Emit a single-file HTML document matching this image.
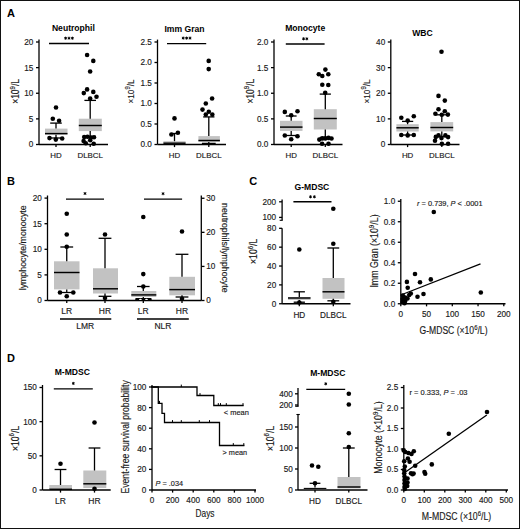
<!DOCTYPE html>
<html><head><meta charset="utf-8"><style>
html,body{margin:0;padding:0;background:#fff;}
svg{display:block;font-family:"Liberation Sans", sans-serif;}
text{stroke:#1a1a1a;stroke-width:0.15px;}
text[font-weight="bold"]{stroke:none;}
</style></head><body>
<svg width="520" height="529" viewBox="0 0 520 529">
<rect x="0.5" y="0.5" width="519" height="528" fill="#fff" stroke="#111" stroke-width="1"/>
<text x="11" y="17" font-size="11" text-anchor="middle" font-weight="bold" font-style="normal" fill="#000">A</text>
<text x="11" y="185" font-size="11" text-anchor="middle" font-weight="bold" font-style="normal" fill="#000">B</text>
<text x="253.3" y="184.6" font-size="11" text-anchor="middle" font-weight="bold" font-style="normal" fill="#000">C</text>
<text x="11" y="361.8" font-size="11" text-anchor="middle" font-weight="bold" font-style="normal" fill="#000">D</text>
<text x="73.4" y="30.6" font-size="8.6" text-anchor="middle" font-weight="bold" font-style="normal" fill="#000">Neutrophil</text>
<line x1="39" y1="39.6" x2="39" y2="144.5" stroke="#000" stroke-width="1.3"/>
<line x1="36" y1="144.5" x2="39" y2="144.5" stroke="#000" stroke-width="1.3"/>
<text x="33.4" y="147.45" font-size="8.2" text-anchor="end" font-weight="normal" font-style="normal" fill="#1a1a1a">0</text>
<line x1="36" y1="118.88" x2="39" y2="118.88" stroke="#000" stroke-width="1.3"/>
<text x="33.4" y="121.83" font-size="8.2" text-anchor="end" font-weight="normal" font-style="normal" fill="#1a1a1a">5</text>
<line x1="36" y1="93.25" x2="39" y2="93.25" stroke="#000" stroke-width="1.3"/>
<text x="33.4" y="96.2" font-size="8.2" text-anchor="end" font-weight="normal" font-style="normal" fill="#1a1a1a">10</text>
<line x1="36" y1="67.62" x2="39" y2="67.62" stroke="#000" stroke-width="1.3"/>
<text x="33.4" y="70.58" font-size="8.2" text-anchor="end" font-weight="normal" font-style="normal" fill="#1a1a1a">15</text>
<line x1="36" y1="42" x2="39" y2="42" stroke="#000" stroke-width="1.3"/>
<text x="33.4" y="44.95" font-size="8.2" text-anchor="end" font-weight="normal" font-style="normal" fill="#1a1a1a">20</text>
<line x1="39" y1="144.5" x2="108" y2="144.5" stroke="#000" stroke-width="1.3"/>
<line x1="56" y1="144.5" x2="56" y2="147.1" stroke="#000" stroke-width="1.3"/>
<text x="56" y="157.8" font-size="7.9" text-anchor="middle" font-weight="normal" font-style="normal" fill="#1a1a1a">HD</text>
<line x1="90.2" y1="144.5" x2="90.2" y2="147.1" stroke="#000" stroke-width="1.3"/>
<text x="90.2" y="157.8" font-size="7.9" text-anchor="middle" font-weight="normal" font-style="normal" fill="#1a1a1a">DLBCL</text>
<text x="15.4" y="95" font-size="10" text-anchor="middle" fill="#1a1a1a" transform="rotate(-90 15.4 91.4)" textLength="24.8" lengthAdjust="spacingAndGlyphs">×10<tspan dy="-4.5" font-size="7.2">9</tspan><tspan dy="4.5">/L</tspan></text>
<line x1="49" y1="43.5" x2="89" y2="43.5" stroke="#000" stroke-width="1.3"/>
<path d="M65.6 36.7L65.6 39.7M64.3 37.45L66.9 38.95M64.3 38.95L66.9 37.45" stroke="#000" stroke-width="1" fill="none"/>
<path d="M69 36.7L69 39.7M67.7 37.45L70.3 38.95M67.7 38.95L70.3 37.45" stroke="#000" stroke-width="1" fill="none"/>
<path d="M72.4 36.7L72.4 39.7M71.1 37.45L73.7 38.95M71.1 38.95L73.7 37.45" stroke="#000" stroke-width="1" fill="none"/>
<rect x="45" y="128.6" width="22.5" height="6.2" fill="#c2c2c2"/>
<line x1="56" y1="123.1" x2="56" y2="128.6" stroke="#000" stroke-width="1.3"/>
<line x1="50.2" y1="123.1" x2="61.8" y2="123.1" stroke="#000" stroke-width="1.3"/>
<line x1="56" y1="134.8" x2="56" y2="138" stroke="#000" stroke-width="1.3"/>
<line x1="50.2" y1="138" x2="61.8" y2="138" stroke="#000" stroke-width="1.3"/>
<line x1="45" y1="133.6" x2="67.5" y2="133.6" stroke="#000" stroke-width="1.45"/>
<circle cx="56" cy="107.5" r="2.3" fill="#000"/>
<circle cx="52.8" cy="118.8" r="2.3" fill="#000"/>
<circle cx="59.1" cy="120.8" r="2.3" fill="#000"/>
<circle cx="49.5" cy="138.1" r="2.3" fill="#000"/>
<circle cx="55.8" cy="139.6" r="2.3" fill="#000"/>
<circle cx="62.2" cy="138.5" r="2.3" fill="#000"/>
<rect x="78.8" y="118.7" width="23" height="12.4" fill="#c2c2c2"/>
<line x1="90.2" y1="100.4" x2="90.2" y2="118.7" stroke="#000" stroke-width="1.3"/>
<line x1="84.4" y1="100.4" x2="96" y2="100.4" stroke="#000" stroke-width="1.3"/>
<line x1="90.2" y1="131.1" x2="90.2" y2="136.5" stroke="#000" stroke-width="1.3"/>
<line x1="84.4" y1="136.5" x2="96" y2="136.5" stroke="#000" stroke-width="1.3"/>
<line x1="78.8" y1="125.5" x2="101.8" y2="125.5" stroke="#000" stroke-width="1.45"/>
<circle cx="87.1" cy="55" r="2.3" fill="#000"/>
<circle cx="93.3" cy="60.9" r="2.3" fill="#000"/>
<circle cx="90.15" cy="71.5" r="2.3" fill="#000"/>
<circle cx="87.1" cy="89.4" r="2.3" fill="#000"/>
<circle cx="83.8" cy="93.1" r="2.3" fill="#000"/>
<circle cx="93.3" cy="91.9" r="2.3" fill="#000"/>
<circle cx="96.5" cy="96.7" r="2.3" fill="#000"/>
<circle cx="90.15" cy="98.5" r="2.3" fill="#000"/>
<circle cx="84.2" cy="137" r="2.3" fill="#000"/>
<circle cx="87.5" cy="136.8" r="2.3" fill="#000"/>
<circle cx="91" cy="137.5" r="2.3" fill="#000"/>
<circle cx="94" cy="137.2" r="2.3" fill="#000"/>
<circle cx="90.2" cy="140.3" r="2.3" fill="#000"/>
<circle cx="83.6" cy="141" r="2.3" fill="#000"/>
<circle cx="85.8" cy="143.3" r="2.3" fill="#000"/>
<circle cx="93.7" cy="143.7" r="2.3" fill="#000"/>
<text x="184.5" y="31.8" font-size="8.6" text-anchor="middle" font-weight="bold" font-style="normal" fill="#000">Imm Gran</text>
<line x1="157.5" y1="39.6" x2="157.5" y2="144.5" stroke="#000" stroke-width="1.3"/>
<line x1="154.5" y1="144.5" x2="157.5" y2="144.5" stroke="#000" stroke-width="1.3"/>
<text x="151.9" y="147.45" font-size="8.2" text-anchor="end" font-weight="normal" font-style="normal" fill="#1a1a1a">0.0</text>
<line x1="154.5" y1="124" x2="157.5" y2="124" stroke="#000" stroke-width="1.3"/>
<text x="151.9" y="126.95" font-size="8.2" text-anchor="end" font-weight="normal" font-style="normal" fill="#1a1a1a">0.5</text>
<line x1="154.5" y1="103.5" x2="157.5" y2="103.5" stroke="#000" stroke-width="1.3"/>
<text x="151.9" y="106.45" font-size="8.2" text-anchor="end" font-weight="normal" font-style="normal" fill="#1a1a1a">1.0</text>
<line x1="154.5" y1="83" x2="157.5" y2="83" stroke="#000" stroke-width="1.3"/>
<text x="151.9" y="85.95" font-size="8.2" text-anchor="end" font-weight="normal" font-style="normal" fill="#1a1a1a">1.5</text>
<line x1="154.5" y1="62.5" x2="157.5" y2="62.5" stroke="#000" stroke-width="1.3"/>
<text x="151.9" y="65.45" font-size="8.2" text-anchor="end" font-weight="normal" font-style="normal" fill="#1a1a1a">2.0</text>
<line x1="154.5" y1="42" x2="157.5" y2="42" stroke="#000" stroke-width="1.3"/>
<text x="151.9" y="44.95" font-size="8.2" text-anchor="end" font-weight="normal" font-style="normal" fill="#1a1a1a">2.5</text>
<line x1="157.5" y1="144.5" x2="226" y2="144.5" stroke="#000" stroke-width="1.3"/>
<line x1="174.5" y1="144.5" x2="174.5" y2="147.1" stroke="#000" stroke-width="1.3"/>
<text x="174.5" y="157.8" font-size="7.9" text-anchor="middle" font-weight="normal" font-style="normal" fill="#1a1a1a">HD</text>
<line x1="208.8" y1="144.5" x2="208.8" y2="147.1" stroke="#000" stroke-width="1.3"/>
<text x="208.8" y="157.8" font-size="7.9" text-anchor="middle" font-weight="normal" font-style="normal" fill="#1a1a1a">DLBCL</text>
<text x="131.2" y="94.81" font-size="9.2" text-anchor="middle" fill="#1a1a1a" transform="rotate(-90 131.2 91.5)" textLength="24" lengthAdjust="spacingAndGlyphs">×10<tspan dy="-4.14" font-size="6.62">9</tspan><tspan dy="4.14">/L</tspan></text>
<line x1="167" y1="43.6" x2="206.2" y2="43.6" stroke="#000" stroke-width="1.3"/>
<path d="M183.2 36.6L183.2 39.6M181.9 37.35L184.5 38.85M181.9 38.85L184.5 37.35" stroke="#000" stroke-width="1" fill="none"/>
<path d="M186.6 36.6L186.6 39.6M185.3 37.35L187.9 38.85M185.3 38.85L187.9 37.35" stroke="#000" stroke-width="1" fill="none"/>
<path d="M190 36.6L190 39.6M188.7 37.35L191.3 38.85M188.7 38.85L191.3 37.35" stroke="#000" stroke-width="1" fill="none"/>
<rect x="163.4" y="141.2" width="22.2" height="2.8" fill="#c2c2c2"/>
<line x1="174.5" y1="133.5" x2="174.5" y2="141.2" stroke="#000" stroke-width="1.3"/>
<line x1="171" y1="133.5" x2="178" y2="133.5" stroke="#000" stroke-width="1.3"/>
<line x1="163.4" y1="143.2" x2="185.6" y2="143.2" stroke="#000" stroke-width="1.45"/>
<circle cx="174.5" cy="118.4" r="2.3" fill="#000"/>
<circle cx="171.4" cy="134.5" r="2.3" fill="#000"/>
<circle cx="177.9" cy="132.8" r="2.3" fill="#000"/>
<rect x="198.4" y="136.1" width="21.5" height="5.8" fill="#c2c2c2"/>
<line x1="208.8" y1="116.9" x2="208.8" y2="136.1" stroke="#000" stroke-width="1.3"/>
<line x1="203.15" y1="116.9" x2="214.45" y2="116.9" stroke="#000" stroke-width="1.3"/>
<line x1="208.8" y1="141.9" x2="208.8" y2="143.4" stroke="#000" stroke-width="1.3"/>
<line x1="201.9" y1="143.4" x2="215.7" y2="143.4" stroke="#000" stroke-width="1.3"/>
<line x1="198.4" y1="140.5" x2="219.9" y2="140.5" stroke="#000" stroke-width="1.45"/>
<circle cx="208.7" cy="60.9" r="2.3" fill="#000"/>
<circle cx="208.7" cy="69.1" r="2.3" fill="#000"/>
<circle cx="212.1" cy="98.5" r="2.3" fill="#000"/>
<circle cx="205.8" cy="103.5" r="2.3" fill="#000"/>
<circle cx="202.5" cy="109.6" r="2.3" fill="#000"/>
<circle cx="208.8" cy="111.8" r="2.3" fill="#000"/>
<circle cx="205.8" cy="114.6" r="2.3" fill="#000"/>
<circle cx="212.3" cy="114.6" r="2.3" fill="#000"/>
<text x="305.2" y="31" font-size="8.6" text-anchor="middle" font-weight="bold" font-style="normal" fill="#000">Monocyte</text>
<line x1="274" y1="39.6" x2="274" y2="144.5" stroke="#000" stroke-width="1.3"/>
<line x1="271" y1="144.5" x2="274" y2="144.5" stroke="#000" stroke-width="1.3"/>
<text x="268.4" y="147.45" font-size="8.2" text-anchor="end" font-weight="normal" font-style="normal" fill="#1a1a1a">0.0</text>
<line x1="271" y1="118.88" x2="274" y2="118.88" stroke="#000" stroke-width="1.3"/>
<text x="268.4" y="121.83" font-size="8.2" text-anchor="end" font-weight="normal" font-style="normal" fill="#1a1a1a">0.5</text>
<line x1="271" y1="93.25" x2="274" y2="93.25" stroke="#000" stroke-width="1.3"/>
<text x="268.4" y="96.2" font-size="8.2" text-anchor="end" font-weight="normal" font-style="normal" fill="#1a1a1a">1.0</text>
<line x1="271" y1="67.62" x2="274" y2="67.62" stroke="#000" stroke-width="1.3"/>
<text x="268.4" y="70.58" font-size="8.2" text-anchor="end" font-weight="normal" font-style="normal" fill="#1a1a1a">1.5</text>
<line x1="271" y1="42" x2="274" y2="42" stroke="#000" stroke-width="1.3"/>
<text x="268.4" y="44.95" font-size="8.2" text-anchor="end" font-weight="normal" font-style="normal" fill="#1a1a1a">2.0</text>
<line x1="274" y1="144.5" x2="342.5" y2="144.5" stroke="#000" stroke-width="1.3"/>
<line x1="291.2" y1="144.5" x2="291.2" y2="147.1" stroke="#000" stroke-width="1.3"/>
<text x="291.2" y="157.8" font-size="7.9" text-anchor="middle" font-weight="normal" font-style="normal" fill="#1a1a1a">HD</text>
<line x1="325.3" y1="144.5" x2="325.3" y2="147.1" stroke="#000" stroke-width="1.3"/>
<text x="325.3" y="157.8" font-size="7.9" text-anchor="middle" font-weight="normal" font-style="normal" fill="#1a1a1a">DLBCL</text>
<text x="250.4" y="94.8" font-size="10" text-anchor="middle" fill="#1a1a1a" transform="rotate(-90 250.4 91.2)" textLength="24.6" lengthAdjust="spacingAndGlyphs">×10<tspan dy="-4.5" font-size="7.2">9</tspan><tspan dy="4.5">/L</tspan></text>
<line x1="285.8" y1="44" x2="324.6" y2="44" stroke="#000" stroke-width="1.3"/>
<path d="M303.55 37.3L303.55 40.3M302.25 38.05L304.85 39.55M302.25 39.55L304.85 38.05" stroke="#000" stroke-width="1" fill="none"/>
<path d="M306.85 37.3L306.85 40.3M305.55 38.05L308.15 39.55M305.55 39.55L308.15 38.05" stroke="#000" stroke-width="1" fill="none"/>
<rect x="280" y="120.8" width="22.5" height="10.1" fill="#c2c2c2"/>
<line x1="291.2" y1="116" x2="291.2" y2="120.8" stroke="#000" stroke-width="1.3"/>
<line x1="285.8" y1="116" x2="296.6" y2="116" stroke="#000" stroke-width="1.3"/>
<line x1="291.2" y1="130.9" x2="291.2" y2="135.5" stroke="#000" stroke-width="1.3"/>
<line x1="285.8" y1="135.5" x2="296.6" y2="135.5" stroke="#000" stroke-width="1.3"/>
<line x1="280" y1="127.1" x2="302.5" y2="127.1" stroke="#000" stroke-width="1.45"/>
<circle cx="284.8" cy="111.9" r="2.3" fill="#000"/>
<circle cx="297.5" cy="111.2" r="2.3" fill="#000"/>
<circle cx="291.2" cy="115.2" r="2.3" fill="#000"/>
<circle cx="284.8" cy="135.5" r="2.3" fill="#000"/>
<circle cx="297.5" cy="136.2" r="2.3" fill="#000"/>
<circle cx="291.2" cy="139.2" r="2.3" fill="#000"/>
<rect x="313.8" y="109.2" width="23" height="20.3" fill="#c2c2c2"/>
<line x1="325.3" y1="94.1" x2="325.3" y2="109.2" stroke="#000" stroke-width="1.3"/>
<line x1="319.7" y1="94.1" x2="330.9" y2="94.1" stroke="#000" stroke-width="1.3"/>
<line x1="325.3" y1="129.5" x2="325.3" y2="137.5" stroke="#000" stroke-width="1.3"/>
<line x1="319.7" y1="137.5" x2="330.9" y2="137.5" stroke="#000" stroke-width="1.3"/>
<line x1="313.8" y1="118.5" x2="336.8" y2="118.5" stroke="#000" stroke-width="1.45"/>
<circle cx="325.4" cy="69.6" r="2.3" fill="#000"/>
<circle cx="318.8" cy="74.2" r="2.3" fill="#000"/>
<circle cx="322.3" cy="76" r="2.3" fill="#000"/>
<circle cx="328.3" cy="74.2" r="2.3" fill="#000"/>
<circle cx="322.3" cy="84.8" r="2.3" fill="#000"/>
<circle cx="328.3" cy="85" r="2.3" fill="#000"/>
<circle cx="325.2" cy="92.7" r="2.3" fill="#000"/>
<circle cx="319.3" cy="139.6" r="2.3" fill="#000"/>
<circle cx="322.3" cy="138.4" r="2.3" fill="#000"/>
<circle cx="325.3" cy="138.4" r="2.3" fill="#000"/>
<circle cx="328.5" cy="137.9" r="2.3" fill="#000"/>
<circle cx="331.5" cy="138.5" r="2.3" fill="#000"/>
<circle cx="322.1" cy="143.8" r="2.3" fill="#000"/>
<circle cx="328.5" cy="143.8" r="2.3" fill="#000"/>
<text x="422.5" y="36.2" font-size="8.6" text-anchor="middle" font-weight="bold" font-style="normal" fill="#000">WBC</text>
<line x1="390.8" y1="39.6" x2="390.8" y2="144.5" stroke="#000" stroke-width="1.3"/>
<line x1="387.8" y1="144.5" x2="390.8" y2="144.5" stroke="#000" stroke-width="1.3"/>
<text x="385.2" y="147.45" font-size="8.2" text-anchor="end" font-weight="normal" font-style="normal" fill="#1a1a1a">0</text>
<line x1="387.8" y1="118.88" x2="390.8" y2="118.88" stroke="#000" stroke-width="1.3"/>
<text x="385.2" y="121.83" font-size="8.2" text-anchor="end" font-weight="normal" font-style="normal" fill="#1a1a1a">10</text>
<line x1="387.8" y1="93.25" x2="390.8" y2="93.25" stroke="#000" stroke-width="1.3"/>
<text x="385.2" y="96.2" font-size="8.2" text-anchor="end" font-weight="normal" font-style="normal" fill="#1a1a1a">20</text>
<line x1="387.8" y1="67.62" x2="390.8" y2="67.62" stroke="#000" stroke-width="1.3"/>
<text x="385.2" y="70.58" font-size="8.2" text-anchor="end" font-weight="normal" font-style="normal" fill="#1a1a1a">30</text>
<line x1="387.8" y1="42" x2="390.8" y2="42" stroke="#000" stroke-width="1.3"/>
<text x="385.2" y="44.95" font-size="8.2" text-anchor="end" font-weight="normal" font-style="normal" fill="#1a1a1a">40</text>
<line x1="390.8" y1="144.5" x2="459.5" y2="144.5" stroke="#000" stroke-width="1.3"/>
<line x1="407.6" y1="144.5" x2="407.6" y2="147.1" stroke="#000" stroke-width="1.3"/>
<text x="407.6" y="157.8" font-size="7.9" text-anchor="middle" font-weight="normal" font-style="normal" fill="#1a1a1a">HD</text>
<line x1="441.8" y1="144.5" x2="441.8" y2="147.1" stroke="#000" stroke-width="1.3"/>
<text x="441.8" y="157.8" font-size="7.9" text-anchor="middle" font-weight="normal" font-style="normal" fill="#1a1a1a">DLBCL</text>
<text x="366.6" y="94.96" font-size="9.6" text-anchor="middle" fill="#1a1a1a" transform="rotate(-90 366.6 91.5)" textLength="24.2" lengthAdjust="spacingAndGlyphs">×10<tspan dy="-4.32" font-size="6.91">9</tspan><tspan dy="4.32">/L</tspan></text>
<rect x="396.4" y="124.2" width="22.3" height="7.3" fill="#c2c2c2"/>
<line x1="407.6" y1="121.4" x2="407.6" y2="124.2" stroke="#000" stroke-width="1.3"/>
<line x1="402" y1="121.4" x2="413.2" y2="121.4" stroke="#000" stroke-width="1.3"/>
<line x1="407.6" y1="131.5" x2="407.6" y2="135" stroke="#000" stroke-width="1.3"/>
<line x1="402" y1="135" x2="413.2" y2="135" stroke="#000" stroke-width="1.3"/>
<line x1="396.4" y1="127.8" x2="418.7" y2="127.8" stroke="#000" stroke-width="1.45"/>
<circle cx="401.3" cy="117.8" r="2.3" fill="#000"/>
<circle cx="413.8" cy="116.2" r="2.3" fill="#000"/>
<circle cx="407.7" cy="120.6" r="2.3" fill="#000"/>
<circle cx="401.3" cy="135" r="2.3" fill="#000"/>
<circle cx="407.7" cy="135.4" r="2.3" fill="#000"/>
<circle cx="413.8" cy="135" r="2.3" fill="#000"/>
<rect x="430.4" y="122.1" width="22.8" height="9.3" fill="#c2c2c2"/>
<line x1="441.8" y1="114.8" x2="441.8" y2="122.1" stroke="#000" stroke-width="1.3"/>
<line x1="436.2" y1="114.8" x2="447.4" y2="114.8" stroke="#000" stroke-width="1.3"/>
<line x1="441.8" y1="131.4" x2="441.8" y2="136.5" stroke="#000" stroke-width="1.3"/>
<line x1="436.2" y1="136.5" x2="447.4" y2="136.5" stroke="#000" stroke-width="1.3"/>
<line x1="430.4" y1="127.5" x2="453.2" y2="127.5" stroke="#000" stroke-width="1.45"/>
<circle cx="441.5" cy="51.8" r="2.3" fill="#000"/>
<circle cx="438.5" cy="95.9" r="2.3" fill="#000"/>
<circle cx="444.8" cy="100.6" r="2.3" fill="#000"/>
<circle cx="438.5" cy="109.2" r="2.3" fill="#000"/>
<circle cx="444.8" cy="111.2" r="2.3" fill="#000"/>
<circle cx="435.4" cy="113.8" r="2.3" fill="#000"/>
<circle cx="441.8" cy="114.8" r="2.3" fill="#000"/>
<circle cx="447.9" cy="114.6" r="2.3" fill="#000"/>
<circle cx="435.8" cy="136.9" r="2.3" fill="#000"/>
<circle cx="438.5" cy="135.4" r="2.3" fill="#000"/>
<circle cx="441.5" cy="138.1" r="2.3" fill="#000"/>
<circle cx="445.4" cy="135.4" r="2.3" fill="#000"/>
<circle cx="448.1" cy="137.1" r="2.3" fill="#000"/>
<circle cx="435" cy="140.8" r="2.3" fill="#000"/>
<circle cx="441.9" cy="143.7" r="2.3" fill="#000"/>
<circle cx="448.1" cy="143.8" r="2.3" fill="#000"/>
<line x1="47.5" y1="195.5" x2="47.5" y2="300.5" stroke="#000" stroke-width="1.3"/>
<line x1="44.5" y1="300.5" x2="47.5" y2="300.5" stroke="#000" stroke-width="1.3"/>
<text x="41.9" y="303.45" font-size="8.2" text-anchor="end" font-weight="normal" font-style="normal" fill="#1a1a1a">0</text>
<line x1="44.5" y1="274.9" x2="47.5" y2="274.9" stroke="#000" stroke-width="1.3"/>
<text x="41.9" y="277.85" font-size="8.2" text-anchor="end" font-weight="normal" font-style="normal" fill="#1a1a1a">5</text>
<line x1="44.5" y1="249.3" x2="47.5" y2="249.3" stroke="#000" stroke-width="1.3"/>
<text x="41.9" y="252.25" font-size="8.2" text-anchor="end" font-weight="normal" font-style="normal" fill="#1a1a1a">10</text>
<line x1="44.5" y1="223.7" x2="47.5" y2="223.7" stroke="#000" stroke-width="1.3"/>
<text x="41.9" y="226.65" font-size="8.2" text-anchor="end" font-weight="normal" font-style="normal" fill="#1a1a1a">15</text>
<line x1="44.5" y1="198.1" x2="47.5" y2="198.1" stroke="#000" stroke-width="1.3"/>
<text x="41.9" y="201.05" font-size="8.2" text-anchor="end" font-weight="normal" font-style="normal" fill="#1a1a1a">20</text>
<line x1="201.3" y1="195.5" x2="201.3" y2="300.5" stroke="#000" stroke-width="1.3"/>
<line x1="201.3" y1="300.5" x2="204.5" y2="300.5" stroke="#000" stroke-width="1.3"/>
<text x="206.2" y="303.45" font-size="8.2" text-anchor="start" font-weight="normal" font-style="normal" fill="#1a1a1a">0</text>
<line x1="201.3" y1="266.42" x2="204.5" y2="266.42" stroke="#000" stroke-width="1.3"/>
<text x="206.2" y="269.37" font-size="8.2" text-anchor="start" font-weight="normal" font-style="normal" fill="#1a1a1a">10</text>
<line x1="201.3" y1="232.34" x2="204.5" y2="232.34" stroke="#000" stroke-width="1.3"/>
<text x="206.2" y="235.29" font-size="8.2" text-anchor="start" font-weight="normal" font-style="normal" fill="#1a1a1a">20</text>
<line x1="201.3" y1="198.26" x2="204.5" y2="198.26" stroke="#000" stroke-width="1.3"/>
<text x="206.2" y="201.21" font-size="8.2" text-anchor="start" font-weight="normal" font-style="normal" fill="#1a1a1a">30</text>
<line x1="47.5" y1="300.5" x2="201.3" y2="300.5" stroke="#000" stroke-width="1.3"/>
<line x1="66.75" y1="300.5" x2="66.75" y2="303.1" stroke="#000" stroke-width="1.3"/>
<text x="66.75" y="314.3" font-size="8.5" text-anchor="middle" font-weight="normal" font-style="normal" fill="#1a1a1a">LR</text>
<line x1="105" y1="300.5" x2="105" y2="303.1" stroke="#000" stroke-width="1.3"/>
<text x="105" y="314.3" font-size="8.5" text-anchor="middle" font-weight="normal" font-style="normal" fill="#1a1a1a">HR</text>
<line x1="143.3" y1="300.5" x2="143.3" y2="303.1" stroke="#000" stroke-width="1.3"/>
<text x="143.3" y="314.3" font-size="8.5" text-anchor="middle" font-weight="normal" font-style="normal" fill="#1a1a1a">LR</text>
<line x1="182" y1="300.5" x2="182" y2="303.1" stroke="#000" stroke-width="1.3"/>
<text x="182" y="314.3" font-size="8.5" text-anchor="middle" font-weight="normal" font-style="normal" fill="#1a1a1a">HR</text>
<line x1="60" y1="319" x2="111.3" y2="319" stroke="#000" stroke-width="1.3"/>
<line x1="137" y1="319" x2="188.8" y2="319" stroke="#000" stroke-width="1.3"/>
<text x="85.3" y="329" font-size="8.5" text-anchor="middle" font-weight="normal" font-style="normal" fill="#1a1a1a">LMR</text>
<text x="163" y="329" font-size="8.5" text-anchor="middle" font-weight="normal" font-style="normal" fill="#1a1a1a">NLR</text>
<line x1="66" y1="199.1" x2="104" y2="199.1" stroke="#000" stroke-width="1.3"/>
<path d="M85 192L85 195M83.7 192.75L86.3 194.25M83.7 194.25L86.3 192.75" stroke="#000" stroke-width="1" fill="none"/>
<line x1="144" y1="199.1" x2="182.1" y2="199.1" stroke="#000" stroke-width="1.3"/>
<path d="M163.05 192.2L163.05 195.2M161.75 192.95L164.35 194.45M161.75 194.45L164.35 192.95" stroke="#000" stroke-width="1" fill="none"/>
<text x="26.5" y="247.8" font-size="9.2" text-anchor="middle" font-weight="normal" font-style="normal" fill="#1a1a1a" transform="rotate(-90 26.5 247.8)" textLength="85" lengthAdjust="spacingAndGlyphs">lymphocyte/monocyte</text>
<text x="221.5" y="247.8" font-size="9.6" text-anchor="middle" font-weight="normal" font-style="normal" fill="#1a1a1a" transform="rotate(90 221.5 247.8)" textLength="89.5" lengthAdjust="spacingAndGlyphs">neutrophils/lymphocyte</text>
<rect x="54" y="261.3" width="25.5" height="28.1" fill="#c2c2c2"/>
<line x1="66.75" y1="247" x2="66.75" y2="261.3" stroke="#000" stroke-width="1.3"/>
<line x1="60.35" y1="247" x2="73.15" y2="247" stroke="#000" stroke-width="1.3"/>
<line x1="66.75" y1="289.4" x2="66.75" y2="292.5" stroke="#000" stroke-width="1.3"/>
<line x1="60.35" y1="292.5" x2="73.15" y2="292.5" stroke="#000" stroke-width="1.3"/>
<line x1="54" y1="272.5" x2="79.5" y2="272.5" stroke="#000" stroke-width="1.45"/>
<circle cx="66.75" cy="213.8" r="2.3" fill="#000"/>
<circle cx="66.75" cy="234.5" r="2.3" fill="#000"/>
<circle cx="66.75" cy="246.8" r="2.3" fill="#000"/>
<circle cx="60" cy="292.5" r="2.3" fill="#000"/>
<circle cx="73.3" cy="292.5" r="2.3" fill="#000"/>
<circle cx="66.75" cy="296.3" r="2.3" fill="#000"/>
<rect x="93" y="268.3" width="25" height="25.2" fill="#c2c2c2"/>
<line x1="105" y1="238.3" x2="105" y2="268.3" stroke="#000" stroke-width="1.3"/>
<line x1="98.6" y1="238.3" x2="111.4" y2="238.3" stroke="#000" stroke-width="1.3"/>
<line x1="105" y1="293.5" x2="105" y2="296.3" stroke="#000" stroke-width="1.3"/>
<line x1="98.6" y1="296.3" x2="111.4" y2="296.3" stroke="#000" stroke-width="1.3"/>
<line x1="93" y1="288.8" x2="118" y2="288.8" stroke="#000" stroke-width="1.45"/>
<circle cx="105" cy="234.5" r="2.3" fill="#000"/>
<circle cx="105" cy="298" r="2.3" fill="#000"/>
<rect x="131.3" y="291" width="25" height="6" fill="#c2c2c2"/>
<line x1="143.3" y1="286.5" x2="143.3" y2="291" stroke="#000" stroke-width="1.3"/>
<line x1="137" y1="286.5" x2="149.6" y2="286.5" stroke="#000" stroke-width="1.3"/>
<line x1="131.3" y1="294.9" x2="156.3" y2="294.9" stroke="#000" stroke-width="1.45"/>
<circle cx="143.3" cy="217" r="2.3" fill="#000"/>
<circle cx="143.3" cy="274.1" r="2.3" fill="#000"/>
<circle cx="143.3" cy="286.5" r="2.3" fill="#000"/>
<line x1="143.3" y1="297" x2="143.3" y2="298.5" stroke="#000" stroke-width="1.3"/>
<rect x="135.2" y="298" width="16.5" height="2.6" rx="1" fill="#000"/>
<ellipse cx="140.4" cy="299.4" rx="1.4" ry="0.6" fill="#fff"/>
<ellipse cx="146.5" cy="299.4" rx="1.4" ry="0.6" fill="#fff"/>
<rect x="169.3" y="276.8" width="25.7" height="18.5" fill="#c2c2c2"/>
<line x1="182" y1="254.3" x2="182" y2="276.8" stroke="#000" stroke-width="1.3"/>
<line x1="175.6" y1="254.3" x2="188.4" y2="254.3" stroke="#000" stroke-width="1.3"/>
<line x1="182" y1="295.3" x2="182" y2="297" stroke="#000" stroke-width="1.3"/>
<line x1="175.6" y1="297" x2="188.4" y2="297" stroke="#000" stroke-width="1.3"/>
<line x1="169.3" y1="289.6" x2="195" y2="289.6" stroke="#000" stroke-width="1.45"/>
<circle cx="182" cy="231.5" r="2.3" fill="#000"/>
<circle cx="182" cy="298.8" r="2.3" fill="#000"/>
<text x="311.9" y="190.2" font-size="8.6" text-anchor="middle" font-weight="bold" font-style="normal" fill="#000">G-MDSC</text>
<line x1="282.1" y1="199.5" x2="282.1" y2="220.3" stroke="#000" stroke-width="1.3"/>
<line x1="279.1" y1="201.8" x2="282.1" y2="201.8" stroke="#000" stroke-width="1.3"/>
<text x="276.2" y="204.75" font-size="8.2" text-anchor="end" font-weight="normal" font-style="normal" fill="#1a1a1a">200</text>
<line x1="279.1" y1="217.4" x2="282.1" y2="217.4" stroke="#000" stroke-width="1.3"/>
<text x="276.2" y="220.35" font-size="8.2" text-anchor="end" font-weight="normal" font-style="normal" fill="#1a1a1a">100</text>
<line x1="279.7" y1="220.3" x2="282.7" y2="220.3" stroke="#000" stroke-width="1.1"/>
<line x1="282.1" y1="228.3" x2="282.1" y2="303.8" stroke="#000" stroke-width="1.3"/>
<line x1="279.1" y1="303.75" x2="282.1" y2="303.75" stroke="#000" stroke-width="1.3"/>
<text x="276.2" y="306.7" font-size="8.2" text-anchor="end" font-weight="normal" font-style="normal" fill="#1a1a1a">0</text>
<line x1="279.1" y1="284.89" x2="282.1" y2="284.89" stroke="#000" stroke-width="1.3"/>
<text x="276.2" y="287.84" font-size="8.2" text-anchor="end" font-weight="normal" font-style="normal" fill="#1a1a1a">20</text>
<line x1="279.1" y1="266.03" x2="282.1" y2="266.03" stroke="#000" stroke-width="1.3"/>
<text x="276.2" y="268.98" font-size="8.2" text-anchor="end" font-weight="normal" font-style="normal" fill="#1a1a1a">40</text>
<line x1="279.1" y1="247.17" x2="282.1" y2="247.17" stroke="#000" stroke-width="1.3"/>
<text x="276.2" y="250.12" font-size="8.2" text-anchor="end" font-weight="normal" font-style="normal" fill="#1a1a1a">60</text>
<line x1="279.1" y1="228.31" x2="282.1" y2="228.31" stroke="#000" stroke-width="1.3"/>
<text x="276.2" y="231.26" font-size="8.2" text-anchor="end" font-weight="normal" font-style="normal" fill="#1a1a1a">80</text>
<line x1="282.1" y1="303.75" x2="350.5" y2="303.75" stroke="#000" stroke-width="1.3"/>
<line x1="299.3" y1="303.75" x2="299.3" y2="306.35" stroke="#000" stroke-width="1.3"/>
<text x="299.3" y="318" font-size="8.2" text-anchor="middle" font-weight="normal" font-style="normal" fill="#1a1a1a">HD</text>
<line x1="333.3" y1="303.75" x2="333.3" y2="306.35" stroke="#000" stroke-width="1.3"/>
<text x="333.3" y="318" font-size="8.2" text-anchor="middle" font-weight="normal" font-style="normal" fill="#1a1a1a">DLBCL</text>
<line x1="293.4" y1="201.75" x2="331.5" y2="201.75" stroke="#000" stroke-width="1.3"/>
<path d="M310.5 195.3L310.5 198.3M309.2 196.05L311.8 197.55M309.2 197.55L311.8 196.05" stroke="#000" stroke-width="1" fill="none"/>
<path d="M314.4 195.3L314.4 198.3M313.1 196.05L315.7 197.55M313.1 197.55L315.7 196.05" stroke="#000" stroke-width="1" fill="none"/>
<text x="253.6" y="254.9" font-size="10" text-anchor="middle" fill="#1a1a1a" transform="rotate(-90 253.6 251.3)" textLength="25.2" lengthAdjust="spacingAndGlyphs">×10<tspan dy="-4.5" font-size="7.2">6</tspan><tspan dy="4.5">/L</tspan></text>
<rect x="288" y="297" width="22.5" height="3" fill="#c2c2c2"/>
<line x1="299.3" y1="291.8" x2="299.3" y2="297" stroke="#000" stroke-width="1.3"/>
<line x1="293.7" y1="291.8" x2="304.9" y2="291.8" stroke="#000" stroke-width="1.3"/>
<line x1="299.3" y1="300" x2="299.3" y2="302.2" stroke="#000" stroke-width="1.3"/>
<line x1="293.7" y1="302.2" x2="304.9" y2="302.2" stroke="#000" stroke-width="1.3"/>
<line x1="288" y1="298" x2="310.5" y2="298" stroke="#000" stroke-width="1.45"/>
<circle cx="299.3" cy="249.5" r="2.3" fill="#000"/>
<circle cx="299.3" cy="302.5" r="2.3" fill="#000"/>
<rect x="322.5" y="278" width="22" height="20.8" fill="#c2c2c2"/>
<line x1="333.3" y1="248" x2="333.3" y2="278" stroke="#000" stroke-width="1.3"/>
<line x1="327.4" y1="248" x2="339.2" y2="248" stroke="#000" stroke-width="1.3"/>
<line x1="333.3" y1="298.8" x2="333.3" y2="300.8" stroke="#000" stroke-width="1.3"/>
<line x1="327.4" y1="300.8" x2="339.2" y2="300.8" stroke="#000" stroke-width="1.3"/>
<line x1="322.5" y1="291.8" x2="344.5" y2="291.8" stroke="#000" stroke-width="1.45"/>
<circle cx="333.3" cy="208.8" r="2.3" fill="#000"/>
<circle cx="333.3" cy="243.8" r="2.3" fill="#000"/>
<circle cx="333.3" cy="301.8" r="2.3" fill="#000"/>
<line x1="400.8" y1="199" x2="400.8" y2="303.75" stroke="#000" stroke-width="1.3"/>
<line x1="397.8" y1="303.75" x2="400.8" y2="303.75" stroke="#000" stroke-width="1.3"/>
<text x="395.2" y="306.7" font-size="8.2" text-anchor="end" font-weight="normal" font-style="normal" fill="#1a1a1a">0.0</text>
<line x1="397.8" y1="283.25" x2="400.8" y2="283.25" stroke="#000" stroke-width="1.3"/>
<text x="395.2" y="286.2" font-size="8.2" text-anchor="end" font-weight="normal" font-style="normal" fill="#1a1a1a">0.2</text>
<line x1="397.8" y1="262.75" x2="400.8" y2="262.75" stroke="#000" stroke-width="1.3"/>
<text x="395.2" y="265.7" font-size="8.2" text-anchor="end" font-weight="normal" font-style="normal" fill="#1a1a1a">0.4</text>
<line x1="397.8" y1="242.25" x2="400.8" y2="242.25" stroke="#000" stroke-width="1.3"/>
<text x="395.2" y="245.2" font-size="8.2" text-anchor="end" font-weight="normal" font-style="normal" fill="#1a1a1a">0.6</text>
<line x1="397.8" y1="221.75" x2="400.8" y2="221.75" stroke="#000" stroke-width="1.3"/>
<text x="395.2" y="224.7" font-size="8.2" text-anchor="end" font-weight="normal" font-style="normal" fill="#1a1a1a">0.8</text>
<line x1="397.8" y1="201.25" x2="400.8" y2="201.25" stroke="#000" stroke-width="1.3"/>
<text x="395.2" y="204.2" font-size="8.2" text-anchor="end" font-weight="normal" font-style="normal" fill="#1a1a1a">1.0</text>
<line x1="400.8" y1="303.75" x2="505.5" y2="303.75" stroke="#000" stroke-width="1.3"/>
<line x1="400.8" y1="303.75" x2="400.8" y2="306.35" stroke="#000" stroke-width="1.3"/>
<text x="400.8" y="317" font-size="8.2" text-anchor="middle" font-weight="normal" font-style="normal" fill="#1a1a1a">0</text>
<line x1="426.55" y1="303.75" x2="426.55" y2="306.35" stroke="#000" stroke-width="1.3"/>
<text x="426.55" y="317" font-size="8.2" text-anchor="middle" font-weight="normal" font-style="normal" fill="#1a1a1a">50</text>
<line x1="452.3" y1="303.75" x2="452.3" y2="306.35" stroke="#000" stroke-width="1.3"/>
<text x="452.3" y="317" font-size="8.2" text-anchor="middle" font-weight="normal" font-style="normal" fill="#1a1a1a">100</text>
<line x1="478.05" y1="303.75" x2="478.05" y2="306.35" stroke="#000" stroke-width="1.3"/>
<text x="478.05" y="317" font-size="8.2" text-anchor="middle" font-weight="normal" font-style="normal" fill="#1a1a1a">150</text>
<line x1="503.8" y1="303.75" x2="503.8" y2="306.35" stroke="#000" stroke-width="1.3"/>
<text x="503.8" y="317" font-size="8.2" text-anchor="middle" font-weight="normal" font-style="normal" fill="#1a1a1a">200</text>
<text x="453.5" y="333.6" font-size="10" text-anchor="middle" font-weight="normal" font-style="normal" fill="#1a1a1a" textLength="68" lengthAdjust="spacingAndGlyphs">G-MDSC (×10<tspan dy="-4" font-size="7">6</tspan><tspan dy="4">/L)</tspan></text>
<text x="374.9" y="251" font-size="10" text-anchor="middle" font-weight="normal" font-style="normal" fill="#1a1a1a" transform="rotate(-90 374.9 251)" textLength="73.2" lengthAdjust="spacingAndGlyphs" dy="3.6">Imm Gran (×10<tspan dy="-4" font-size="7">9</tspan><tspan dy="4">/L)</tspan></text>
<text x="449.8" y="206" font-size="7.4" text-anchor="middle" font-weight="normal" font-style="normal" fill="#1a1a1a" textLength="65.5" lengthAdjust="spacingAndGlyphs"><tspan font-style="italic">r</tspan> = 0.739, <tspan font-style="italic">P</tspan> &lt; .0001</text>
<line x1="400.8" y1="295" x2="480.5" y2="263.8" stroke="#000" stroke-width="1.3"/>
<circle cx="433.8" cy="212" r="2.3" fill="#000"/>
<circle cx="480.8" cy="292.5" r="2.3" fill="#000"/>
<circle cx="415" cy="274" r="2.3" fill="#000"/>
<circle cx="430.8" cy="279.4" r="2.3" fill="#000"/>
<circle cx="420" cy="282.3" r="2.3" fill="#000"/>
<circle cx="406.9" cy="281.9" r="2.3" fill="#000"/>
<circle cx="407.7" cy="287.8" r="2.3" fill="#000"/>
<circle cx="423.5" cy="294" r="2.3" fill="#000"/>
<circle cx="417.5" cy="296.8" r="2.3" fill="#000"/>
<circle cx="410.8" cy="293.5" r="2.3" fill="#000"/>
<circle cx="409.2" cy="295" r="2.3" fill="#000"/>
<circle cx="402.8" cy="295.5" r="2.3" fill="#000"/>
<circle cx="402.6" cy="299" r="2.3" fill="#000"/>
<circle cx="402.6" cy="302" r="2.3" fill="#000"/>
<circle cx="405.2" cy="297.5" r="2.3" fill="#000"/>
<circle cx="405.2" cy="301" r="2.3" fill="#000"/>
<circle cx="407.5" cy="298.5" r="2.3" fill="#000"/>
<circle cx="404.5" cy="303.2" r="2.3" fill="#000"/>
<text x="72.3" y="375.2" font-size="8.6" text-anchor="middle" font-weight="bold" font-style="normal" fill="#000">M-MDSC</text>
<line x1="42.5" y1="385" x2="42.5" y2="490" stroke="#000" stroke-width="1.3"/>
<line x1="39.5" y1="490" x2="42.5" y2="490" stroke="#000" stroke-width="1.3"/>
<text x="36.9" y="492.95" font-size="8.2" text-anchor="end" font-weight="normal" font-style="normal" fill="#1a1a1a">0</text>
<line x1="39.5" y1="455.83" x2="42.5" y2="455.83" stroke="#000" stroke-width="1.3"/>
<text x="36.9" y="458.78" font-size="8.2" text-anchor="end" font-weight="normal" font-style="normal" fill="#1a1a1a">50</text>
<line x1="39.5" y1="421.66" x2="42.5" y2="421.66" stroke="#000" stroke-width="1.3"/>
<text x="36.9" y="424.61" font-size="8.2" text-anchor="end" font-weight="normal" font-style="normal" fill="#1a1a1a">100</text>
<line x1="39.5" y1="387.49" x2="42.5" y2="387.49" stroke="#000" stroke-width="1.3"/>
<text x="36.9" y="390.44" font-size="8.2" text-anchor="end" font-weight="normal" font-style="normal" fill="#1a1a1a">150</text>
<line x1="42.5" y1="490" x2="110.7" y2="490" stroke="#000" stroke-width="1.3"/>
<line x1="60.5" y1="490" x2="60.5" y2="492.6" stroke="#000" stroke-width="1.3"/>
<text x="60.5" y="503.5" font-size="8.5" text-anchor="middle" font-weight="normal" font-style="normal" fill="#1a1a1a">LR</text>
<line x1="94.5" y1="490" x2="94.5" y2="492.6" stroke="#000" stroke-width="1.3"/>
<text x="94.5" y="503.5" font-size="8.5" text-anchor="middle" font-weight="normal" font-style="normal" fill="#1a1a1a">HR</text>
<line x1="53.8" y1="388.9" x2="92.8" y2="388.9" stroke="#000" stroke-width="1.3"/>
<path d="M73.3 381.9L73.3 384.9M72 382.65L74.6 384.15M72 384.15L74.6 382.65" stroke="#000" stroke-width="1" fill="none"/>
<text x="15.3" y="442" font-size="10" text-anchor="middle" fill="#1a1a1a" transform="rotate(-90 15.3 438.4)" textLength="25.2" lengthAdjust="spacingAndGlyphs">×10<tspan dy="-4.5" font-size="7.2">6</tspan><tspan dy="4.5">/L</tspan></text>
<rect x="49.3" y="485" width="22.7" height="4.6" fill="#c2c2c2"/>
<line x1="60.5" y1="469.5" x2="60.5" y2="485" stroke="#000" stroke-width="1.3"/>
<line x1="54.6" y1="469.5" x2="66.4" y2="469.5" stroke="#000" stroke-width="1.3"/>
<line x1="49.3" y1="489.3" x2="72" y2="489.3" stroke="#000" stroke-width="1.45"/>
<circle cx="60.5" cy="463.8" r="2.3" fill="#000"/>
<rect x="83.3" y="470.5" width="23" height="17.5" fill="#c2c2c2"/>
<line x1="94.5" y1="448" x2="94.5" y2="470.5" stroke="#000" stroke-width="1.3"/>
<line x1="88.6" y1="448" x2="100.4" y2="448" stroke="#000" stroke-width="1.3"/>
<line x1="83.3" y1="483.8" x2="106.3" y2="483.8" stroke="#000" stroke-width="1.45"/>
<circle cx="94.5" cy="422.5" r="2.3" fill="#000"/>
<circle cx="94.5" cy="488.8" r="2.3" fill="#000"/>
<line x1="152" y1="385" x2="152" y2="490" stroke="#000" stroke-width="1.3"/>
<line x1="149" y1="490" x2="152" y2="490" stroke="#000" stroke-width="1.3"/>
<text x="146.4" y="492.95" font-size="8.2" text-anchor="end" font-weight="normal" font-style="normal" fill="#1a1a1a">0</text>
<line x1="149" y1="469.4" x2="152" y2="469.4" stroke="#000" stroke-width="1.3"/>
<text x="146.4" y="472.35" font-size="8.2" text-anchor="end" font-weight="normal" font-style="normal" fill="#1a1a1a">20</text>
<line x1="149" y1="448.8" x2="152" y2="448.8" stroke="#000" stroke-width="1.3"/>
<text x="146.4" y="451.75" font-size="8.2" text-anchor="end" font-weight="normal" font-style="normal" fill="#1a1a1a">40</text>
<line x1="149" y1="428.2" x2="152" y2="428.2" stroke="#000" stroke-width="1.3"/>
<text x="146.4" y="431.15" font-size="8.2" text-anchor="end" font-weight="normal" font-style="normal" fill="#1a1a1a">60</text>
<line x1="149" y1="407.6" x2="152" y2="407.6" stroke="#000" stroke-width="1.3"/>
<text x="146.4" y="410.55" font-size="8.2" text-anchor="end" font-weight="normal" font-style="normal" fill="#1a1a1a">80</text>
<line x1="149" y1="387" x2="152" y2="387" stroke="#000" stroke-width="1.3"/>
<text x="146.4" y="389.95" font-size="8.2" text-anchor="end" font-weight="normal" font-style="normal" fill="#1a1a1a">100</text>
<line x1="152" y1="490" x2="256" y2="490" stroke="#000" stroke-width="1.3"/>
<line x1="152" y1="490" x2="152" y2="492.6" stroke="#000" stroke-width="1.3"/>
<text x="152" y="503" font-size="8.2" text-anchor="middle" font-weight="normal" font-style="normal" fill="#1a1a1a">0</text>
<line x1="172.6" y1="490" x2="172.6" y2="492.6" stroke="#000" stroke-width="1.3"/>
<text x="172.6" y="503" font-size="8.2" text-anchor="middle" font-weight="normal" font-style="normal" fill="#1a1a1a">200</text>
<line x1="193.2" y1="490" x2="193.2" y2="492.6" stroke="#000" stroke-width="1.3"/>
<text x="193.2" y="503" font-size="8.2" text-anchor="middle" font-weight="normal" font-style="normal" fill="#1a1a1a">400</text>
<line x1="213.8" y1="490" x2="213.8" y2="492.6" stroke="#000" stroke-width="1.3"/>
<text x="213.8" y="503" font-size="8.2" text-anchor="middle" font-weight="normal" font-style="normal" fill="#1a1a1a">600</text>
<line x1="234.4" y1="490" x2="234.4" y2="492.6" stroke="#000" stroke-width="1.3"/>
<text x="234.4" y="503" font-size="8.2" text-anchor="middle" font-weight="normal" font-style="normal" fill="#1a1a1a">800</text>
<line x1="255" y1="490" x2="255" y2="492.6" stroke="#000" stroke-width="1.3"/>
<text x="255" y="503" font-size="8.2" text-anchor="middle" font-weight="normal" font-style="normal" fill="#1a1a1a">1000</text>
<text x="205" y="516.6" font-size="10" text-anchor="middle" font-weight="normal" font-style="normal" fill="#1a1a1a" textLength="19" lengthAdjust="spacingAndGlyphs">Days</text>
<text x="129.4" y="436.9" font-size="10.3" text-anchor="middle" font-weight="normal" font-style="normal" fill="#1a1a1a" transform="rotate(-90 129.4 436.9)" textLength="113.2" lengthAdjust="spacingAndGlyphs">Event-free survival probability</text>
<polyline points="152,387 197,387 197,395.5 213.8,395.5 213.8,405.5 243,405.5" fill="none" stroke="#000" stroke-width="1.3" stroke-linejoin="miter" stroke-linecap="square"/>
<polyline points="152,387 158.3,387 158.3,403.3 162,403.3 162,413.3 164.5,413.3 164.5,422.5 219.5,422.5 219.5,445.5 243.8,445.5" fill="none" stroke="#000" stroke-width="1.3" stroke-linejoin="miter" stroke-linecap="square"/>
<line x1="181.3" y1="384.6" x2="181.3" y2="387" stroke="#000" stroke-width="1"/>
<line x1="200" y1="393.1" x2="200" y2="395.5" stroke="#000" stroke-width="1"/>
<line x1="218.3" y1="403.1" x2="218.3" y2="405.5" stroke="#000" stroke-width="1"/>
<line x1="220.5" y1="403.1" x2="220.5" y2="405.5" stroke="#000" stroke-width="1"/>
<line x1="226.3" y1="403.1" x2="226.3" y2="405.5" stroke="#000" stroke-width="1"/>
<line x1="243" y1="403.1" x2="243" y2="405.5" stroke="#000" stroke-width="1"/>
<line x1="159.5" y1="400.9" x2="159.5" y2="403.3" stroke="#000" stroke-width="1"/>
<line x1="172.5" y1="420.1" x2="172.5" y2="422.5" stroke="#000" stroke-width="1"/>
<line x1="181.3" y1="420.1" x2="181.3" y2="422.5" stroke="#000" stroke-width="1"/>
<line x1="199.3" y1="420.1" x2="199.3" y2="422.5" stroke="#000" stroke-width="1"/>
<line x1="209.5" y1="420.1" x2="209.5" y2="422.5" stroke="#000" stroke-width="1"/>
<line x1="233.3" y1="443.1" x2="233.3" y2="445.5" stroke="#000" stroke-width="1"/>
<line x1="243.8" y1="443.1" x2="243.8" y2="445.5" stroke="#000" stroke-width="1"/>
<text x="236.3" y="414.7" font-size="7.4" text-anchor="middle" font-weight="normal" font-style="normal" fill="#1a1a1a" textLength="25" lengthAdjust="spacingAndGlyphs">&lt; mean</text>
<text x="234.8" y="455.2" font-size="7.4" text-anchor="middle" font-weight="normal" font-style="normal" fill="#1a1a1a" textLength="24.5" lengthAdjust="spacingAndGlyphs">&gt; mean</text>
<text x="169.3" y="485.9" font-size="7.4" text-anchor="middle" font-weight="normal" font-style="normal" fill="#1a1a1a" textLength="27.5" lengthAdjust="spacingAndGlyphs"><tspan font-style="italic">P</tspan> = .034</text>
<text x="327.8" y="376.3" font-size="8.6" text-anchor="middle" font-weight="bold" font-style="normal" fill="#000">M-MDSC</text>
<line x1="298" y1="388" x2="298" y2="406.3" stroke="#000" stroke-width="1.3"/>
<line x1="295" y1="393.8" x2="298" y2="393.8" stroke="#000" stroke-width="1.3"/>
<text x="292.8" y="396.75" font-size="8.2" text-anchor="end" font-weight="normal" font-style="normal" fill="#1a1a1a">400</text>
<line x1="295" y1="405" x2="298" y2="405" stroke="#000" stroke-width="1.3"/>
<text x="292.8" y="407.95" font-size="8.2" text-anchor="end" font-weight="normal" font-style="normal" fill="#1a1a1a">200</text>
<line x1="295.2" y1="406.3" x2="298.6" y2="406.3" stroke="#000" stroke-width="1.1"/>
<line x1="296.4" y1="414.5" x2="299.8" y2="414.5" stroke="#000" stroke-width="1.1"/>
<line x1="298" y1="414.5" x2="298" y2="490" stroke="#000" stroke-width="1.3"/>
<line x1="295" y1="490" x2="298" y2="490" stroke="#000" stroke-width="1.3"/>
<text x="292.8" y="492.95" font-size="8.2" text-anchor="end" font-weight="normal" font-style="normal" fill="#1a1a1a">0</text>
<line x1="295" y1="469" x2="298" y2="469" stroke="#000" stroke-width="1.3"/>
<text x="292.8" y="471.95" font-size="8.2" text-anchor="end" font-weight="normal" font-style="normal" fill="#1a1a1a">50</text>
<line x1="295" y1="448" x2="298" y2="448" stroke="#000" stroke-width="1.3"/>
<text x="292.8" y="450.95" font-size="8.2" text-anchor="end" font-weight="normal" font-style="normal" fill="#1a1a1a">100</text>
<line x1="295" y1="427" x2="298" y2="427" stroke="#000" stroke-width="1.3"/>
<text x="292.8" y="429.95" font-size="8.2" text-anchor="end" font-weight="normal" font-style="normal" fill="#1a1a1a">150</text>
<line x1="298" y1="490" x2="367.5" y2="490" stroke="#000" stroke-width="1.3"/>
<line x1="315" y1="490" x2="315" y2="492.6" stroke="#000" stroke-width="1.3"/>
<text x="315" y="504.2" font-size="8.2" text-anchor="middle" font-weight="normal" font-style="normal" fill="#1a1a1a">HD</text>
<line x1="348.8" y1="490" x2="348.8" y2="492.6" stroke="#000" stroke-width="1.3"/>
<text x="348.8" y="504.2" font-size="8.2" text-anchor="middle" font-weight="normal" font-style="normal" fill="#1a1a1a">DLBCL</text>
<line x1="306.3" y1="389.4" x2="345.2" y2="389.4" stroke="#000" stroke-width="1.3"/>
<path d="M325.75 382.3L325.75 385.3M324.45 383.05L327.05 384.55M324.45 384.55L327.05 383.05" stroke="#000" stroke-width="1" fill="none"/>
<text x="270.4" y="442.07" font-size="10.2" text-anchor="middle" fill="#1a1a1a" transform="rotate(-90 270.4 438.4)" textLength="25.4" lengthAdjust="spacingAndGlyphs">×10<tspan dy="-4.59" font-size="7.34">6</tspan><tspan dy="4.59">/L</tspan></text>
<rect x="303.8" y="487.5" width="22.5" height="2" fill="#c2c2c2"/>
<line x1="315" y1="483.3" x2="315" y2="487.5" stroke="#000" stroke-width="1.3"/>
<line x1="309.6" y1="483.3" x2="320.4" y2="483.3" stroke="#000" stroke-width="1.3"/>
<line x1="303.8" y1="488.8" x2="326.3" y2="488.8" stroke="#000" stroke-width="1.45"/>
<circle cx="312" cy="465.5" r="2.3" fill="#000"/>
<circle cx="318.3" cy="466.8" r="2.3" fill="#000"/>
<circle cx="315" cy="483.3" r="2.3" fill="#000"/>
<rect x="337.5" y="477" width="23" height="11.5" fill="#c2c2c2"/>
<line x1="348.8" y1="448" x2="348.8" y2="477" stroke="#000" stroke-width="1.3"/>
<line x1="342.9" y1="448" x2="354.7" y2="448" stroke="#000" stroke-width="1.3"/>
<line x1="337.5" y1="487" x2="360.5" y2="487" stroke="#000" stroke-width="1.45"/>
<circle cx="348.8" cy="393.8" r="2.3" fill="#000"/>
<circle cx="348.8" cy="404.5" r="2.3" fill="#000"/>
<circle cx="348.8" cy="433.3" r="2.3" fill="#000"/>
<circle cx="348.8" cy="447" r="2.3" fill="#000"/>
<line x1="403.8" y1="385" x2="403.8" y2="490" stroke="#000" stroke-width="1.3"/>
<line x1="400.8" y1="490" x2="403.8" y2="490" stroke="#000" stroke-width="1.3"/>
<text x="398.2" y="492.95" font-size="8.2" text-anchor="end" font-weight="normal" font-style="normal" fill="#1a1a1a">0.0</text>
<line x1="400.8" y1="469.5" x2="403.8" y2="469.5" stroke="#000" stroke-width="1.3"/>
<text x="398.2" y="472.45" font-size="8.2" text-anchor="end" font-weight="normal" font-style="normal" fill="#1a1a1a">0.5</text>
<line x1="400.8" y1="449" x2="403.8" y2="449" stroke="#000" stroke-width="1.3"/>
<text x="398.2" y="451.95" font-size="8.2" text-anchor="end" font-weight="normal" font-style="normal" fill="#1a1a1a">1.0</text>
<line x1="400.8" y1="428.5" x2="403.8" y2="428.5" stroke="#000" stroke-width="1.3"/>
<text x="398.2" y="431.45" font-size="8.2" text-anchor="end" font-weight="normal" font-style="normal" fill="#1a1a1a">1.5</text>
<line x1="400.8" y1="408" x2="403.8" y2="408" stroke="#000" stroke-width="1.3"/>
<text x="398.2" y="410.95" font-size="8.2" text-anchor="end" font-weight="normal" font-style="normal" fill="#1a1a1a">2.0</text>
<line x1="400.8" y1="387.5" x2="403.8" y2="387.5" stroke="#000" stroke-width="1.3"/>
<text x="398.2" y="390.45" font-size="8.2" text-anchor="end" font-weight="normal" font-style="normal" fill="#1a1a1a">2.5</text>
<line x1="403.8" y1="490" x2="508" y2="490" stroke="#000" stroke-width="1.3"/>
<line x1="403.8" y1="490" x2="403.8" y2="492.6" stroke="#000" stroke-width="1.3"/>
<text x="403.8" y="503" font-size="8.2" text-anchor="middle" font-weight="normal" font-style="normal" fill="#1a1a1a">0</text>
<line x1="424.3" y1="490" x2="424.3" y2="492.6" stroke="#000" stroke-width="1.3"/>
<text x="424.3" y="503" font-size="8.2" text-anchor="middle" font-weight="normal" font-style="normal" fill="#1a1a1a">100</text>
<line x1="444.8" y1="490" x2="444.8" y2="492.6" stroke="#000" stroke-width="1.3"/>
<text x="444.8" y="503" font-size="8.2" text-anchor="middle" font-weight="normal" font-style="normal" fill="#1a1a1a">200</text>
<line x1="465.3" y1="490" x2="465.3" y2="492.6" stroke="#000" stroke-width="1.3"/>
<text x="465.3" y="503" font-size="8.2" text-anchor="middle" font-weight="normal" font-style="normal" fill="#1a1a1a">300</text>
<line x1="485.8" y1="490" x2="485.8" y2="492.6" stroke="#000" stroke-width="1.3"/>
<text x="485.8" y="503" font-size="8.2" text-anchor="middle" font-weight="normal" font-style="normal" fill="#1a1a1a">400</text>
<line x1="506.3" y1="490" x2="506.3" y2="492.6" stroke="#000" stroke-width="1.3"/>
<text x="506.3" y="503" font-size="8.2" text-anchor="middle" font-weight="normal" font-style="normal" fill="#1a1a1a">500</text>
<text x="456.5" y="519.7" font-size="10" text-anchor="middle" font-weight="normal" font-style="normal" fill="#1a1a1a" textLength="69.5" lengthAdjust="spacingAndGlyphs">M-MDSC (×10<tspan dy="-4" font-size="7">6</tspan><tspan dy="4">/L)</tspan></text>
<text x="378.6" y="437.5" font-size="10.2" text-anchor="middle" font-weight="normal" font-style="normal" fill="#1a1a1a" transform="rotate(-90 378.6 437.5)" textLength="72.5" lengthAdjust="spacingAndGlyphs" dy="3.6">Monocyte (×10<tspan dy="-4.08" font-size="7.14">9</tspan><tspan dy="4.08">/L)</tspan></text>
<text x="438.5" y="395.2" font-size="7.4" text-anchor="middle" font-weight="normal" font-style="normal" fill="#1a1a1a" textLength="58" lengthAdjust="spacingAndGlyphs">r = 0.333, <tspan font-style="italic">P</tspan> = .03</text>
<line x1="405.5" y1="472" x2="486.8" y2="415" stroke="#000" stroke-width="1.3"/>
<circle cx="487" cy="412" r="2.3" fill="#000"/>
<circle cx="448.8" cy="433.8" r="2.3" fill="#000"/>
<circle cx="431.8" cy="464.4" r="2.3" fill="#000"/>
<circle cx="424.5" cy="472" r="2.3" fill="#000"/>
<circle cx="425.2" cy="473.8" r="2.3" fill="#000"/>
<circle cx="415.2" cy="465.8" r="2.3" fill="#000"/>
<circle cx="413.8" cy="451.2" r="2.3" fill="#000"/>
<circle cx="403.7" cy="450.4" r="2.3" fill="#000"/>
<circle cx="405.3" cy="452" r="2.3" fill="#000"/>
<circle cx="408.4" cy="453" r="2.3" fill="#000"/>
<circle cx="411.5" cy="454" r="2.3" fill="#000"/>
<circle cx="407.9" cy="458.5" r="2.3" fill="#000"/>
<circle cx="409.6" cy="461.8" r="2.3" fill="#000"/>
<circle cx="404.2" cy="461.3" r="2.3" fill="#000"/>
<circle cx="404.8" cy="466.5" r="2.3" fill="#000"/>
<circle cx="404.2" cy="470.1" r="2.3" fill="#000"/>
<circle cx="404.2" cy="473.3" r="2.3" fill="#000"/>
<circle cx="411" cy="473.3" r="2.3" fill="#000"/>
<circle cx="413.6" cy="473.5" r="2.3" fill="#000"/>
<circle cx="412.5" cy="474.3" r="2.3" fill="#000"/>
<circle cx="404.5" cy="476.5" r="2.3" fill="#000"/>
<circle cx="404.5" cy="480" r="2.3" fill="#000"/>
<circle cx="404.5" cy="483.5" r="2.3" fill="#000"/>
<circle cx="404.5" cy="487" r="2.3" fill="#000"/>
<circle cx="407.5" cy="478.5" r="2.3" fill="#000"/>
<circle cx="407.5" cy="482.5" r="2.3" fill="#000"/>
<circle cx="407.2" cy="486" r="2.3" fill="#000"/>
<circle cx="404.8" cy="489" r="2.3" fill="#000"/>
</svg>
</body></html>
